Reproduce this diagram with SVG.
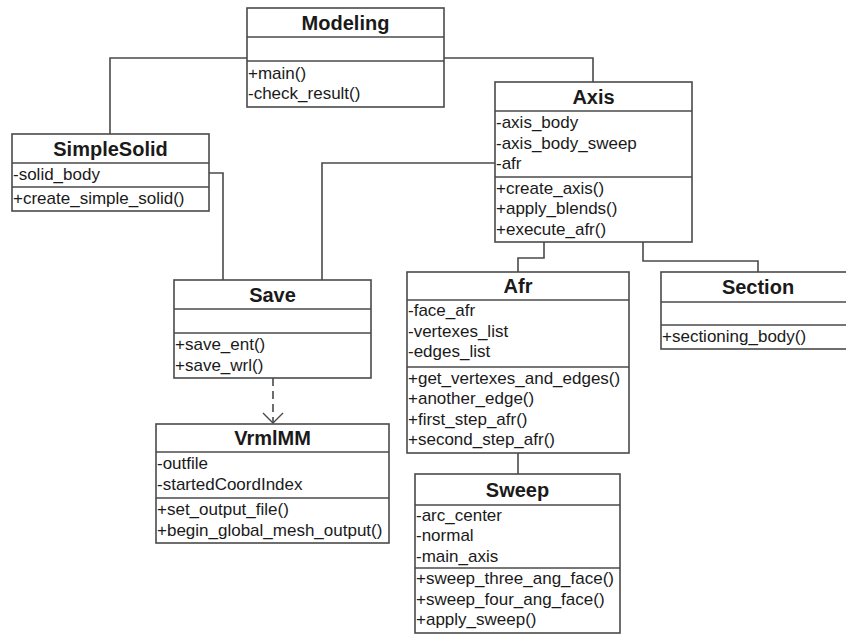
<svg xmlns="http://www.w3.org/2000/svg" width="846" height="635" viewBox="0 0 846 635">
<style>
.box{fill:#fff;stroke:#4a4a4a;stroke-width:1.6}
.sep{stroke:#4a4a4a;stroke-width:1.6}
.hd{font-family:"Liberation Sans",Arial,sans-serif;font-weight:bold;font-size:20px;fill:#1a1a1a;text-anchor:middle}
.m{font-family:"Liberation Sans",Arial,sans-serif;font-size:17px;fill:#1a1a1a}
.c{fill:none;stroke:#4a4a4a;stroke-width:1.6}
</style>
<defs>
<marker id="open" markerWidth="22" markerHeight="22" refX="11" refY="11" orient="auto" markerUnits="userSpaceOnUse">
<path d="M1,1 L11,11 L1,21" fill="none" stroke="#4a4a4a" stroke-width="1.4"/>
</marker>
</defs>
<rect width="846" height="635" fill="#fff"/>
<g id="connectors">
<path class="c" d="M247,58 H110 V134"/>
<path class="c" d="M444,58 H593 V82"/>
<path class="c" d="M209,173 H223 V280"/>
<path class="c" d="M495,163 H322 V280"/>
<path class="c" d="M544,242 V258 H518 V272"/>
<path class="c" d="M643,242 V261 H758 V272"/>
<path class="c" d="M518,453 V474"/>
<path class="c" d="M273,378 V423" stroke-dasharray="8,5" marker-end="url(#open)"/>
</g>
<g id="Modeling">
<rect class="box" x="247" y="8" width="197" height="99"/>
<line class="sep" x1="247" y1="37" x2="444" y2="37"/>
<line class="sep" x1="247" y1="61" x2="444" y2="61"/>
<text class="hd" x="345.5" y="29.5">Modeling</text>
<text class="m" x="248" y="78.5">+main()</text>
<text class="m" x="248" y="99">-check_result()</text>
</g>
<g id="SimpleSolid">
<rect class="box" x="12" y="134" width="197" height="77"/>
<line class="sep" x1="12" y1="163" x2="209" y2="163"/>
<line class="sep" x1="12" y1="187" x2="209" y2="187"/>
<text class="hd" x="110.5" y="155.5">SimpleSolid</text>
<text class="m" x="13" y="179.5">-solid_body</text>
<text class="m" x="13" y="203.5">+create_simple_solid()</text>
</g>
<g id="Axis">
<rect class="box" x="495" y="82" width="197" height="160"/>
<line class="sep" x1="495" y1="111" x2="692" y2="111"/>
<line class="sep" x1="495" y1="177" x2="692" y2="177"/>
<text class="hd" x="593.5" y="103.5">Axis</text>
<text class="m" x="496" y="128">-axis_body</text>
<text class="m" x="496" y="148.5">-axis_body_sweep</text>
<text class="m" x="496" y="169">-afr</text>
<text class="m" x="496" y="193.5">+create_axis()</text>
<text class="m" x="496" y="214">+apply_blends()</text>
<text class="m" x="496" y="234.5">+execute_afr()</text>
</g>
<g id="Save">
<rect class="box" x="174" y="280" width="197" height="98"/>
<line class="sep" x1="174" y1="309" x2="371" y2="309"/>
<line class="sep" x1="174" y1="333" x2="371" y2="333"/>
<text class="hd" x="272.5" y="301.5">Save</text>
<text class="m" x="175" y="350">+save_ent()</text>
<text class="m" x="175" y="370.5">+save_wrl()</text>
</g>
<g id="VrmlMM">
<rect class="box" x="156" y="424" width="233" height="119"/>
<line class="sep" x1="156" y1="452" x2="389" y2="452"/>
<line class="sep" x1="156" y1="498" x2="389" y2="498"/>
<text class="hd" x="272.5" y="445">VrmlMM</text>
<text class="m" x="157" y="469">-outfile</text>
<text class="m" x="157" y="489.5">-startedCoordIndex</text>
<text class="m" x="157" y="515">+set_output_file()</text>
<text class="m" x="157" y="535.5">+begin_global_mesh_output()</text>
</g>
<g id="Afr">
<rect class="box" x="407" y="272" width="222" height="181"/>
<line class="sep" x1="407" y1="300" x2="629" y2="300"/>
<line class="sep" x1="407" y1="367" x2="629" y2="367"/>
<text class="hd" x="518" y="293">Afr</text>
<text class="m" x="408" y="316">-face_afr</text>
<text class="m" x="408" y="336.5">-vertexes_list</text>
<text class="m" x="408" y="357">-edges_list</text>
<text class="m" x="408" y="383.5">+get_vertexes_and_edges()</text>
<text class="m" x="408" y="404">+another_edge()</text>
<text class="m" x="408" y="424.5">+first_step_afr()</text>
<text class="m" x="408" y="445">+second_step_afr()</text>
</g>
<g id="Section">
<rect class="box" x="661" y="272" width="194" height="77"/>
<line class="sep" x1="661" y1="302" x2="855" y2="302"/>
<line class="sep" x1="661" y1="325" x2="855" y2="325"/>
<text class="hd" x="758" y="294">Section</text>
<text class="m" x="662" y="341.5">+sectioning_body()</text>
</g>
<g id="Sweep">
<rect class="box" x="415" y="474" width="205" height="159"/>
<line class="sep" x1="415" y1="505" x2="620" y2="505"/>
<line class="sep" x1="415" y1="568" x2="620" y2="568"/>
<text class="hd" x="517.5" y="496.5">Sweep</text>
<text class="m" x="416" y="520.5">-arc_center</text>
<text class="m" x="416" y="541">-normal</text>
<text class="m" x="416" y="561.5">-main_axis</text>
<text class="m" x="416" y="584">+sweep_three_ang_face()</text>
<text class="m" x="416" y="604.5">+sweep_four_ang_face()</text>
<text class="m" x="416" y="625">+apply_sweep()</text>
</g>
</svg>
